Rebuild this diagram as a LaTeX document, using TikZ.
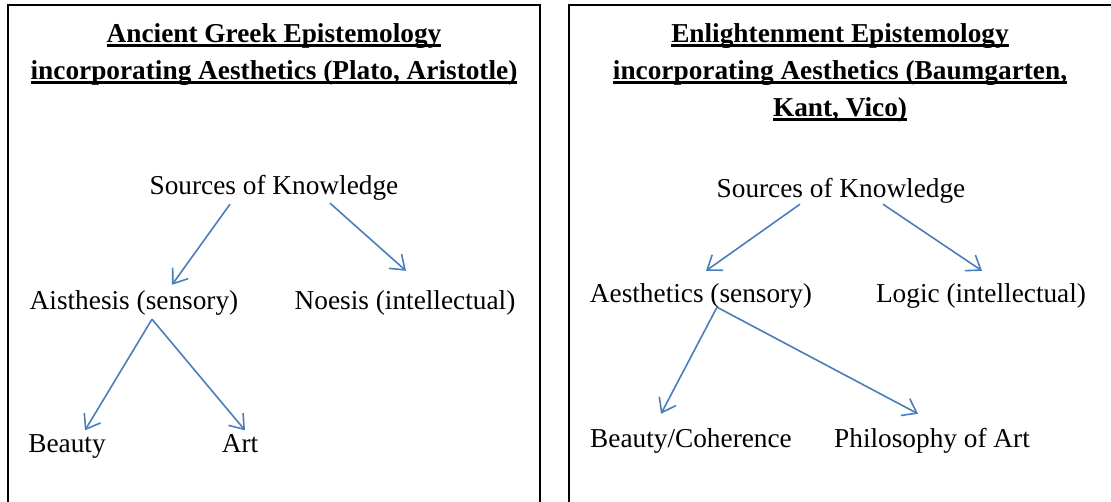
\documentclass[tikz,border=0pt]{standalone}
\usepackage{fontspec}
\setmainfont{Liberation Serif}
\usetikzlibrary{arrows.meta}
\definecolor{arrblue}{RGB}{74,126,187}
\newsavebox{\ulbox}
\newcommand{\ulline}[1]{\sbox{\ulbox}{#1}\rlap{\rule[-4.5pt]{\wd\ulbox}{2.2pt}}\usebox{\ulbox}}

\begin{document}
\begin{tikzpicture}%
	[x=1pt, y=-1pt,
	panel/.style = {draw=black, line width=1.8pt},
	ttl/.style = {anchor=base, align=center, inner sep=0pt, font=\fontsize{27.3}{37}\selectfont\bfseries},
	txt/.style = {inner sep=0pt, text height=22pt, text depth=3pt, font=\fontsize{27.3}{33}\selectfont},
	arr/.style = {draw=arrblue, line width=1.6pt, -{Straight Barb[length=13pt, width=19pt]}}]
	\useasboundingbox (0,0) rectangle (1111,501);
	
	% left panel
	\draw[panel] (8,5) rectangle (540,520);
	\node[ttl] (ttlL) at (274,79) {\ulline{Ancient Greek Epistemology}\\\ulline{incorporating Aesthetics (Plato, Aristotle)}};
	\node[txt] (srcL) at (274,185) {Sources of Knowledge};
	\node[txt] (aisL) at (134,300) {Aisthesis (sensory)};
	\node[txt] (noeL) at (405,300) {Noesis (intellectual)};
	\node[txt] (beaL) at (67,443) {Beauty};
	\node[txt] (artL) at (240,443) {Art};
	
	\draw[arr] ([shift={(-44,6.5)}]srcL.south) -- ([shift={(38,-2.5)}]aisL.north);
	\draw[arr] ([shift={(56,5.5)}]srcL.south) -- ([shift={(1,-16.5)}]noeL.north);
	\draw[arr] ([shift={(18,6.5)}]aisL.south) -- ([shift={(18,0)}]beaL.north);
	\draw[arr] ([shift={(18,6.5)}]aisL.south) -- ([shift={(5,0)}]artL.north);
	
	% right panel
	\draw[panel] (569,5) rectangle (1130,520);
	\node[ttl] (ttlR) at (840,116) {\ulline{Enlightenment Epistemology}\\\ulline{incorporating Aesthetics (Baumgarten,}\\\ulline{Kant, Vico)}};
	\node[txt] (srcR) at (841,188) {Sources of Knowledge};
	\node[txt] (aesR) at (701,293) {Aesthetics (sensory)};
	\node[txt] (logR) at (981,293) {Logic (intellectual)};
	\node[txt] (beaR) at (691,438) {Beauty/Coherence};
	\node[txt] (phiR) at (932,438) {Philosophy of Art};
	
	\draw[arr] ([shift={(-41,3.5)}]srcR.south) -- ([shift={(5,-9.5)}]aesR.north);
	\draw[arr] ([shift={(42,3.5)}]srcR.south) -- ([shift={(1,-9.5)}]logR.north);
	\draw[arr] ([shift={(16,1.5)}]aesR.south) -- ([shift={(-30,-11.5)}]beaR.north);
	\draw[arr] ([shift={(16,1.5)}]aesR.south) -- ([shift={(-14,-11.5)}]phiR.north);
	
\end{tikzpicture}
\end{document}
